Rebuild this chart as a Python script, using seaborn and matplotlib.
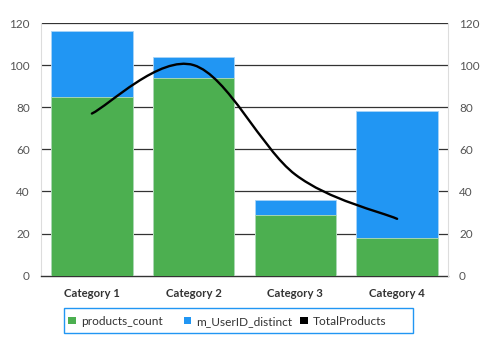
import matplotlib
matplotlib.use("Agg")
import matplotlib.pyplot as plt
import seaborn as sns
import pandas as pd
import numpy as np
from matplotlib.path import Path
from matplotlib.patches import PathPatch, Rectangle

categories = ["Category 1", "Category 2", "Category 3", "Category 4"]
products_count = [85, 94, 29, 18]
m_userid_distinct = [31, 10, 7, 60]
total_products = [77, 100, 48, 27]
y_ticks = [0, 20, 40, 60, 80, 100, 120]
series_names = ["products_count", "m_UserID_distinct", "TotalProducts"]

sns.set_theme(style="white")
plt.rcParams['font.family'] = ['Lato', 'DejaVu Sans']

GREEN = "#4CAF50"
BLUE = "#2196F3"
series_colors = [GREEN, BLUE, "black"]

df = pd.DataFrame({
    "category": categories,
    "products_count": products_count,
    "m_UserID_distinct": m_userid_distinct,
    "TotalProducts": total_products,
})
df["stack_top"] = df["products_count"] + df["m_UserID_distinct"]

W, H = 492, 347
fig = plt.figure(figsize=(W/100, H/100), dpi=100)
ax = fig.add_axes([41/W, 1-275.7/H, (448-41)/W, (275.7-23)/H])

for y in y_ticks[1:]:
    ax.axhline(y, color="#333333", lw=0.9, zorder=0)

sns.barplot(data=df, x="category", y="stack_top", color=BLUE, width=0.8,
            edgecolor="#a9d4f7", linewidth=0.6, saturation=1, ax=ax, zorder=2)
sns.barplot(data=df, x="category", y="products_count", color=GREEN, width=0.8,
            edgecolor="#b5dcb7", linewidth=0.6, saturation=1, ax=ax, zorder=3)

# smooth line (Catmull-Rom -> cubic Bezier through the data points)
xs = np.arange(len(total_products), dtype=float)
ys = np.array(total_products, dtype=float)
verts = [(xs[0], ys[0])]
codes = [Path.MOVETO]
n = len(xs)
for i in range(n - 1):
    p0 = (xs[i-1], ys[i-1]) if i > 0 else (xs[i], ys[i])
    p1 = (xs[i], ys[i])
    p2 = (xs[i+1], ys[i+1])
    p3 = (xs[i+2], ys[i+2]) if i + 2 < n else (xs[i+1], ys[i+1])
    c1 = (p1[0] + (p2[0]-p0[0])/6, p1[1] + (p2[1]-p0[1])/6)
    c2 = (p2[0] - (p3[0]-p1[0])/6, p2[1] - (p3[1]-p1[1])/6)
    verts += [c1, c2, p2]
    codes += [Path.CURVE4]*3
ax.add_patch(PathPatch(Path(verts, codes), facecolor="none", edgecolor="black",
                       lw=1.7, zorder=5, capstyle="round", joinstyle="round"))

ax.set_xlim(-0.5, 3.5)
ax.set_ylim(0, 120)
ax.set_yticks(y_ticks)
ax.set_xlabel("")
ax.set_ylabel("")
ax.tick_params(axis="y", length=0, pad=8, labelsize=8.5, labelcolor="#555555")
ax.tick_params(axis="x", length=0, pad=9, labelsize=8.2, labelcolor="#333333")
for lbl in ax.get_xticklabels():
    lbl.set_fontweight("bold")
for s in ["top", "right"]:
    ax.spines[s].set_visible(False)
ax.spines["left"].set_color("#dddddd")
ax.spines["left"].set_linewidth(0.8)
ax.spines["bottom"].set_color("#333333")
ax.spines["bottom"].set_linewidth(1.0)

ax2 = ax.twinx()
ax2.set_ylim(0, 120)
ax2.set_yticks(y_ticks)
ax2.tick_params(axis="y", length=0, pad=8, labelsize=8.5, labelcolor="#555555")
for s in ["top", "left", "bottom"]:
    ax2.spines[s].set_visible(False)
ax2.spines["right"].set_color("#dddddd")
ax2.spines["right"].set_linewidth(0.8)
ax2.grid(False)

# legend box with fixed-width columns
fig.patches.append(Rectangle((63.5/W, 1-333/H), (413-63.5)/W, (333-307.8)/H,
                             transform=fig.transFigure, facecolor="white",
                             edgecolor=BLUE, lw=1.0, zorder=10))
col_x = [68.3, 183.5, 300.2]
yc = 320.5
sq = 7.5
for cx, name, col in zip(col_x, series_names, series_colors):
    fig.patches.append(Rectangle((cx/W, 1-(yc+sq/2)/H), sq/W, sq/H,
                                 transform=fig.transFigure, facecolor=col,
                                 edgecolor="none", zorder=11))
    fig.text((cx+sq+5)/W, 1-yc/H, name, ha="left", va="center_baseline",
             fontsize=8.6, color="#333333", zorder=12)

fig.savefig("out.png", dpi=100)
